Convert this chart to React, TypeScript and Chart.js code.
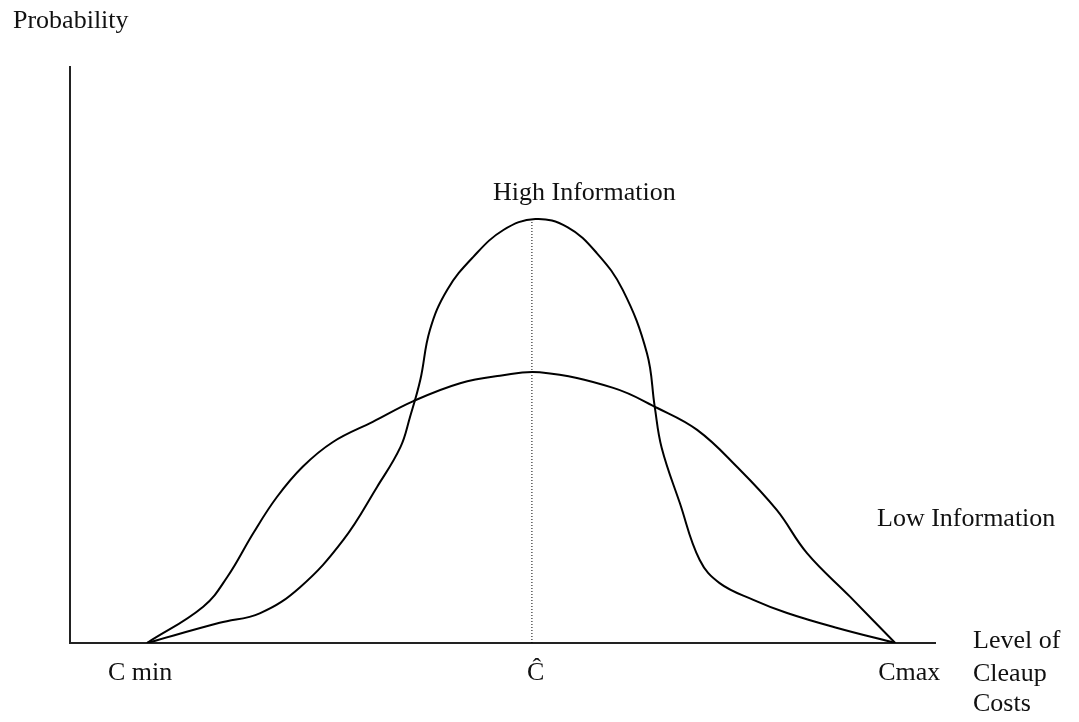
import React, { useEffect, useRef } from "react";
import { Chart, registerables } from "chart.js";

Chart.register(...registerables);

// Level of cleanup costs (0-100 normalised) and probability (0-100 normalised)
const lowInfoX = [8.9, 15.4, 18.2, 21.2, 23.9, 26.9, 30.4, 35.0, 39.7, 45.1, 49.7, 54.3, 62.8, 67.9, 72.5, 77.1, 81.7, 85.2, 90.2, 95.4];
const lowInfoY = [0, 6.3, 11.5, 19.1, 25.3, 30.6, 34.9, 38.4, 42.0, 45.1, 46.4, 47.0, 44.3, 40.8, 37.0, 30.6, 23.1, 15.6, 8.0, 0];

const highInfoX = [8.9, 17.3, 22.0, 26.6, 31.6, 35.5, 38.2, 39.3, 40.5, 41.6, 43.6, 46.6, 50.1, 53.8, 57.5, 60.9, 63.9, 66.7, 67.6, 68.4, 70.5, 72.8, 75.1, 79.0, 82.9, 88.7, 95.4];
const highInfoY = [0, 3.5, 5.2, 9.7, 17.9, 27.1, 34.0, 39.2, 45.7, 54.3, 61.3, 67.0, 71.7, 73.6, 72.2, 67.7, 61.3, 50.3, 41.0, 33.9, 24.3, 14.4, 10.4, 7.5, 5.2, 2.6, 0];

const meanCost = 53.4;
const meanPeak = 73.6;

const tickValues = [8.9, 53.4, 95.4];
const tickLabels = ["C min", "\u0108", "Cmax"];
const yAxisTitle = "Probability";
const xAxisTitle = ["Level of", "Cleaup", "Costs"];
const highLabel = "High Information";
const lowLabel = "Low Information";

const zip = (xs: number[], ys: number[]) => xs.map((x, i) => ({ x, y: ys[i] }));

const textPlugin = {
  id: "textPlugin",
  afterDraw(chart: any) {
    const ctx = chart.ctx as CanvasRenderingContext2D;
    const xs = chart.scales.x;
    ctx.save();
    ctx.fillStyle = "#111";
    ctx.font = '26px "Liberation Serif", "Times New Roman", serif';
    ctx.textBaseline = "alphabetic";
    ctx.textAlign = "left";
    ctx.fillText(yAxisTitle, 13, 28);
    ctx.fillText(highLabel, 493, 200);
    ctx.fillText(lowLabel, 877, 526);
    const offs = [-39, -5, -17];
    tickLabels.forEach((t, i) => {
      const px = xs.getPixelForValue(tickValues[i]);
      ctx.fillText(t, px + offs[i], 680);
    });
    const tops = [648, 681, 711];
    xAxisTitle.forEach((t, i) => ctx.fillText(t, 973, tops[i]));
    ctx.restore();
  },
};

export default function App() {
  const ref = useRef<HTMLCanvasElement | null>(null);
  useEffect(() => {
    if (!ref.current) return;
    const chart = new Chart(ref.current, {
      type: "scatter",
      data: {
        datasets: [
          {
            label: "Low Information",
            data: zip(lowInfoX, lowInfoY),
            showLine: true,
            borderColor: "#000",
            borderWidth: 2,
            pointRadius: 0,
            tension: 0.4,
            fill: false,
          },
          {
            label: "High Information",
            data: zip(highInfoX, highInfoY),
            showLine: true,
            borderColor: "#000",
            borderWidth: 2,
            pointRadius: 0,
            tension: 0.4,
            fill: false,
          },
          {
            label: "mean",
            data: [
              { x: meanCost, y: 0 },
              { x: meanCost, y: meanPeak },
            ],
            showLine: true,
            borderColor: "#000",
            borderWidth: 1,
            borderDash: [1, 2],
            pointRadius: 0,
            fill: false,
          },
        ],
      },
      options: {
        animation: false,
        responsive: false,
        devicePixelRatio: 1,
        layout: { padding: { left: 70, top: 67, right: 144, bottom: 79 } },
        plugins: { legend: { display: false }, tooltip: { enabled: false } },
        scales: {
          x: {
            type: "linear",
            min: 0,
            max: 100,
            ticks: { display: false },
            grid: { display: false, drawTicks: false },
            border: { display: true, color: "#222", width: 2 },
          },
          y: {
            type: "linear",
            min: 0,
            max: 100,
            ticks: { display: false },
            grid: { display: false, drawTicks: false },
            border: { display: true, color: "#222", width: 2 },
          },
        },
      },
      plugins: [textPlugin],
    });
    return () => chart.destroy();
  }, []);
  return (
    <div style={{ position: "fixed", left: 0, top: 0, width: 1079, height: 722, background: "#fff" }}>
      <canvas ref={ref} width={1079} height={722} style={{ display: "block" }} />
    </div>
  );
}
